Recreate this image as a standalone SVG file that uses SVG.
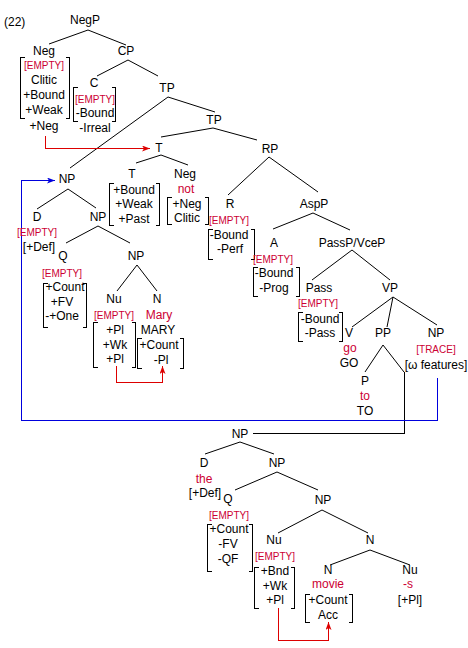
<svg xmlns="http://www.w3.org/2000/svg" width="468" height="648" viewBox="0 0 468 648">
<style>
text{font-family:"Liberation Sans",Arial,sans-serif;font-size:12px;text-anchor:middle;fill:#000}
.e{font-size:10px;fill:#cc0033}
.r{fill:#cc0033}
.s{text-anchor:start}
.br{fill:none;stroke:#000;stroke-width:1;shape-rendering:crispEdges}
.ln{stroke:#000;stroke-width:1;fill:none}
.ra{stroke:#dd0000;stroke-width:1.2;fill:none;shape-rendering:crispEdges}
.ba{stroke:#0000dd;stroke-width:1.2;fill:none;shape-rendering:crispEdges}
</style>
<defs>
<marker id="arR" markerUnits="userSpaceOnUse" markerWidth="10" markerHeight="8" refX="8" refY="3" orient="auto"><path d="M0,0 L8,3 L0,6 L2,3 z" fill="#dd0000"/></marker>
<marker id="arB" markerUnits="userSpaceOnUse" markerWidth="10" markerHeight="8" refX="8" refY="3" orient="auto"><path d="M0,0 L8,3 L0,6 L2,3 z" fill="#0000dd"/></marker>
</defs>
<rect width="468" height="648" fill="#fff"/>
<text class="s" x="4" y="26">(22)</text>

<g id="connectors">
<g class="ln">
<path d="M88 30L49 44M88 30L126 45"/>
<path d="M128 60L97 76M128 60L158 76"/>
<path d="M168 97L70 168M168 97L215 112"/>
<path d="M213 128L161 137M213 128L257 140"/>
<path d="M161 155L136 163M161 155L188 165"/>
<path d="M269 157L228 195M269 157L318 192"/>
<path d="M313 213L273 229M313 213L350 230"/>
<path d="M352 250L312 280M352 250L390 280"/>
<path d="M393 297L352 327M393 297L387 327M393 297L437 325"/>
<path d="M383 345L365 372M383 345L404 372"/>
<path d="M68 189L37 209M68 189L96 208"/>
<path d="M98 226L66 243M98 226L130 243"/>
<path d="M137 265L117 291M137 265L157 291"/>
<path d="M240 442L205 454M240 442L274 454"/>
<path d="M277 472L235 490M277 472L318 490"/>
<path d="M322 510L278 533M322 510L368 533"/>
<path d="M370 550L330 565M370 550L410 565"/>
</g>
<path class="br" d="M404.5 372V433.5H253"/>
<path class="ra" d="M45.5 136V148.5H150" marker-end="url(#arR)"/>
<path class="ra" d="M116.5 366V382.5H162.5V366" marker-end="url(#arR)"/>
<path class="ra" d="M278.5 608V640.5H328.5V622" marker-end="url(#arR)"/>
<path class="ba" d="M437.5 378V420.5H21.5V180.5H55" marker-end="url(#arB)"/>
</g>

<g id="NegP"><text x="85" y="24">NegP</text></g>
<g id="Neg">
<text x="44" y="55">Neg</text>
<path class="br" d="M24.5 57.5H20.5V118.5H24.5M65.5 57.5H69.5V118.5H65.5"/>
<text class="e" x="44" y="69">[EMPTY]</text>
<text x="44" y="84">Clitic</text>
<text x="44" y="99">+Bound</text>
<text x="44" y="114">+Weak</text>
<text x="44" y="130">+Neg</text>
</g>
<g id="CP"><text x="126" y="55">CP</text></g>
<g id="C">
<text x="94" y="87">C</text>
<path class="br" d="M77.5 87.5H73.5V121.5H77.5M111.5 87.5H115.5V121.5H111.5"/>
<text class="e" x="95" y="103">[EMPTY]</text>
<text x="95" y="117">-Bound</text>
<text x="95" y="132">-Irreal</text>
</g>
<g id="TP1"><text x="167" y="92">TP</text></g>
<g id="TP2"><text x="214" y="124">TP</text></g>
<g id="T1"><text x="159" y="152">T</text></g>
<g id="RP"><text x="270" y="153">RP</text></g>
<g id="T2">
<text x="132" y="178">T</text>
<path class="br" d="M113.5 183.5H109.5V225.5H113.5M155.5 183.5H159.5V225.5H155.5"/>
<text x="134" y="194">+Bound</text>
<text x="134" y="208">+Weak</text>
<text x="134" y="223">+Past</text>
</g>
<g id="Neg2">
<text x="185" y="178">Neg</text>
<text class="r" x="186" y="193">not</text>
<path class="br" d="M171.5 197.5H167.5V224.5H171.5M204.5 197.5H208.5V224.5H204.5"/>
<text x="187" y="208">+Neg</text>
<text x="187" y="222">Clitic</text>
</g>
<g id="R">
<text x="230" y="208">R</text>
<text class="e" x="229" y="224">[EMPTY]</text>
<path class="br" d="M212.5 229.5H208.5V259.5H212.5M250.5 229.5H254.5V259.5H250.5"/>
<text x="229" y="239">-Bound</text>
<text x="230" y="253">-Perf</text>
</g>
<g id="AspP"><text x="314" y="208">AspP</text></g>
<g id="A">
<text x="274" y="247">A</text>
<text class="e" x="273" y="263">[EMPTY]</text>
<path class="br" d="M257.5 267.5H253.5V296.5H257.5M295.5 267.5H299.5V296.5H295.5"/>
<text x="274" y="277">-Bound</text>
<text x="274" y="292">-Prog</text>
</g>
<g id="PassP"><text x="352" y="247">PassP/VceP</text></g>
<g id="Pass">
<text x="319" y="292">Pass</text>
<text class="e" x="318" y="307">[EMPTY]</text>
<path class="br" d="M302.5 312.5H298.5V341.5H302.5M338.5 312.5H342.5V341.5H338.5"/>
<text x="320" y="323">-Bound</text>
<text x="320" y="337">-Pass</text>
</g>
<g id="VP"><text x="390" y="292">VP</text></g>
<g id="V">
<text x="349" y="337">V</text>
<text class="r" x="350" y="352">go</text>
<text x="349" y="367">GO</text>
</g>
<g id="PP"><text x="383" y="337">PP</text></g>
<g id="NPtrace">
<text x="436" y="337">NP</text>
<text class="e" x="436" y="353">[TRACE]</text>
<text x="436" y="369">[ω features]</text>
</g>
<g id="P">
<text x="365" y="385">P</text>
<text class="r" x="365" y="400">to</text>
<text x="365" y="415">TO</text>
</g>
<g id="NP1"><text x="67" y="183">NP</text></g>
<g id="D1">
<text x="37" y="221">D</text>
<text class="e" x="37" y="236">[EMPTY]</text>
<text x="39" y="251">[+Def]</text>
</g>
<g id="NP2"><text x="98" y="221">NP</text></g>
<g id="Q1">
<text x="63" y="260">Q</text>
<text class="e" x="62" y="277">[EMPTY]</text>
<path class="br" d="M47.5 283.5H43.5V327.5H47.5M82.5 283.5H86.5V327.5H82.5"/>
<text x="65" y="291">+Count</text>
<text x="62" y="306">+FV</text>
<text x="62" y="320">-+One</text>
</g>
<g id="NP3"><text x="136" y="260">NP</text></g>
<g id="Nu1">
<text x="114" y="303">Nu</text>
<text class="e" x="114" y="319">[EMPTY]</text>
<path class="br" d="M97.5 322.5H93.5V367.5H97.5M131.5 322.5H135.5V367.5H131.5"/>
<text x="115" y="334">+Pl</text>
<text x="115" y="349">+Wk</text>
<text x="115" y="363">+Pl</text>
</g>
<g id="N1">
<text x="157" y="303">N</text>
<text class="r" x="159" y="319">Mary</text>
<text x="158" y="334">MARY</text>
<path class="br" d="M141.5 338.5H137.5V368.5H141.5M179.5 338.5H183.5V368.5H179.5"/>
<text x="159" y="349">+Count</text>
<text x="161" y="364">-Pl</text>
</g>
<g id="NP4"><text x="240" y="438">NP</text></g>
<g id="D2">
<text x="204" y="467">D</text>
<text class="r" x="204" y="483">the</text>
<text x="205" y="497">[+Def]</text>
</g>
<g id="NP5"><text x="277" y="467">NP</text></g>
<g id="Q2">
<text x="228" y="503">Q</text>
<text class="e" x="229" y="519">[EMPTY]</text>
<path class="br" d="M211.5 524.5H207.5V571.5H211.5M248.5 524.5H252.5V571.5H248.5"/>
<text x="229" y="533">+Count</text>
<text x="228" y="548">-FV</text>
<text x="228" y="563">-QF</text>
</g>
<g id="NP6"><text x="323" y="504">NP</text></g>
<g id="Nu2">
<text x="274" y="544">Nu</text>
<text class="e" x="275" y="560">[EMPTY]</text>
<path class="br" d="M258.5 567.5H254.5V608.5H258.5M290.5 567.5H294.5V608.5H290.5"/>
<text x="275" y="575">+Bnd</text>
<text x="275" y="590">+Wk</text>
<text x="275" y="604">+Pl</text>
</g>
<g id="N2"><text x="370" y="544">N</text></g>
<g id="N3">
<text x="328" y="574">N</text>
<text class="r" x="328" y="588">movie</text>
<path class="br" d="M309.5 594.5H305.5V622.5H309.5M348.5 594.5H352.5V622.5H348.5"/>
<text x="328" y="604">+Count</text>
<text x="328" y="619">Acc</text>
</g>
<g id="Nu3">
<text x="410" y="574">Nu</text>
<text class="r" x="408" y="588">-s</text>
<text x="410" y="604">[+Pl]</text>
</g>
</svg>
